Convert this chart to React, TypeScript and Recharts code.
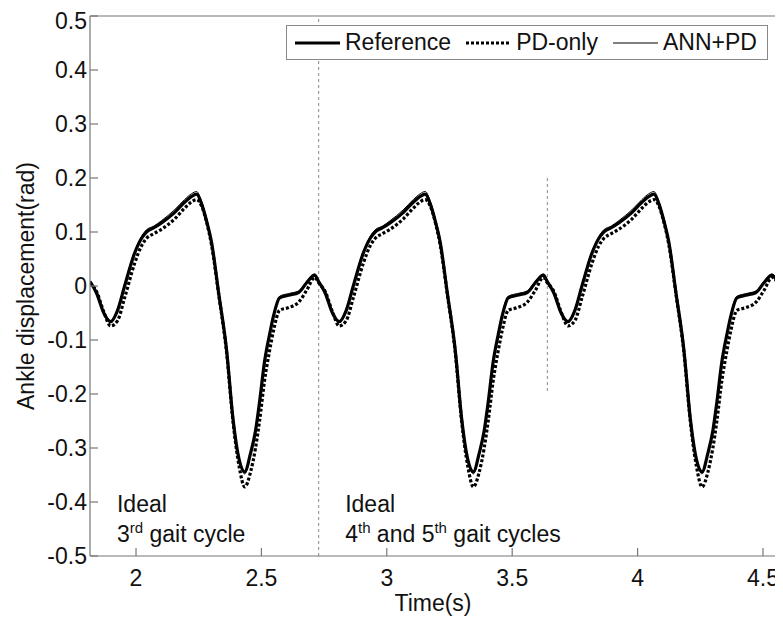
import React from 'react';
import { LineChart, Line, XAxis, YAxis, ReferenceLine, ReferenceDot, Legend } from 'recharts';

// ---- data ----
const cycleStarts = [1.8165, 2.7283, 3.6401];
const cycleEnd = 4.5519;
const phaseTimes = [0, 0.026, 0.055, 0.082, 0.11, 0.138, 0.178, 0.205, 0.225, 0.255, 0.285, 0.337, 0.377, 0.405, 0.425, 0.445, 0.465, 0.485, 0.513, 0.545, 0.57, 0.595, 0.617, 0.64, 0.66, 0.676, 0.696, 0.716, 0.732, 0.756, 0.792, 0.832, 0.864, 0.896];
const referenceCycle = [0.008, -0.013, -0.05, -0.066, -0.045, 0.0, 0.061, 0.088, 0.1, 0.108, 0.117, 0.136, 0.155, 0.166, 0.17, 0.152, 0.12, 0.08, -0.013, -0.12, -0.245, -0.322, -0.344, -0.31, -0.268, -0.215, -0.14, -0.09, -0.055, -0.022, -0.017, -0.012, 0.006, 0.02];
const pdOnlyCycle = [0.006, -0.01, -0.048, -0.074, -0.064, -0.022, 0.042, 0.074, 0.088, 0.097, 0.105, 0.124, 0.144, 0.156, 0.16, 0.148, 0.118, 0.075, -0.015, -0.125, -0.25, -0.335, -0.372, -0.345, -0.3, -0.25, -0.175, -0.12, -0.082, -0.045, -0.04, -0.03, -0.008, 0.016];
const annPdCycle = [0.01, -0.012, -0.048, -0.064, -0.042, 0.003, 0.064, 0.091, 0.104, 0.111, 0.121, 0.141, 0.16, 0.171, 0.175, 0.157, 0.124, 0.083, -0.01, -0.118, -0.243, -0.322, -0.348, -0.312, -0.268, -0.213, -0.137, -0.087, -0.052, -0.019, -0.014, -0.009, 0.009, 0.022];
const endValues = { reference: 0.012, pdOnly: 0.01, annPd: 0.014 };

const seriesKeys = ['reference', 'pdOnly', 'annPd'];
const seriesNames: Record<string, string> = { reference: 'Reference', pdOnly: 'PD-only', annPd: 'ANN+PD' };
const xTicks = [2, 2.5, 3, 3.5, 4, 4.5];
const yTicks = [-0.5, -0.4, -0.3, -0.2, -0.1, 0, 0.1, 0.2, 0.3, 0.4, 0.5];
const xDomain = [1.8165, 4.5519];
const yDomain = [-0.5, 0.5];
const cycleBoundary = 2.7283;
const secondBoundary = { x: 3.6401, yTop: 0.2, yBottom: -0.2 };
const annotations = [
  { x: 1.924, y: -0.4185, line1: 'Ideal', parts: [['3', 'rd'], [' gait cycle', '']] },
  { x: 2.834, y: -0.4185, line1: 'Ideal', parts: [['4', 'th'], [' and 5', 'th'], [' gait cycles', '']] },
];

const data: any[] = [];
cycleStarts.forEach((start) => {
  phaseTimes.forEach((p, i) => {
    data.push({ t: start + p, reference: referenceCycle[i], pdOnly: pdOnlyCycle[i], annPd: annPdCycle[i] });
  });
});
data.push({ t: cycleEnd, ...endValues });

// ---- styles ----
const FONT = '"Liberation Sans", Arial, Helvetica, sans-serif';
const AXIS = '#777';
const TEXT = '#111';
const lineStyles: Record<string, { width: number; dash?: string }> = {
  reference: { width: 3.2 },
  pdOnly: { width: 3.2, dash: '3 2' },
  annPd: { width: 1 },
};

const renderLegend = () => {
  return (
    <div
      style={{
        boxSizing: 'border-box',
        width: 482,
        height: 35,
        border: '1px solid #888',
        background: '#fff',
        display: 'flex',
        alignItems: 'center',
        paddingLeft: 8,
        fontFamily: FONT,
        fontSize: 23,
        color: TEXT,
        whiteSpace: 'nowrap',
      }}
    >
      {seriesKeys.map((key) => {
        const s = lineStyles[key];
        return (
          <div key={key} style={{ display: 'flex', alignItems: 'center', marginRight: 15 }}>
            <svg width={45} height={10} style={{ display: 'block' }}>
              <line x1={0} y1={5} x2={45} y2={5} stroke="#000" strokeWidth={s.width} strokeDasharray={s.dash} />
            </svg>
            <span style={{ marginLeft: 5, lineHeight: '23px' }}>{seriesNames[key]}</span>
          </div>
        );
      })}
    </div>
  );
};

const makeAnnotation = (a: any) => (props: any) => {
  const vb = props.viewBox || {};
  const x = (vb.x || 0) + (vb.width || 0) / 2;
  const y = (vb.y || 0) + (vb.height || 0) / 2;
  const spans: any[] = [];
  a.parts.forEach((p: any, i: number) => {
    spans.push(
      <tspan key={'m' + i} dy={i === 0 ? 30 : 9} x={i === 0 ? x : undefined}>
        {p[0]}
      </tspan>
    );
    if (p[1]) {
      spans.push(
        <tspan key={'s' + i} dy={-9} fontSize={15}>
          {p[1]}
        </tspan>
      );
    }
  });
  return (
    <text x={x} y={y} fontFamily={FONT} fontSize={23} fill={TEXT}>
      <tspan x={x} y={y}>{a.line1}</tspan>
      {spans}
    </text>
  );
};

export default function App() {
  return (
    <>
      <style>{`html, body { overflow: hidden; } .recharts-surface { display: block; }`}</style>
      <LineChart
        width={775}
        height={612}
        data={data}
        margin={{ top: 7, right: 6, bottom: 0, left: 0 }}
      >
        <XAxis
          dataKey="t"
          type="number"
          domain={xDomain}
          ticks={xTicks}
          allowDataOverflow
          height={64}
          stroke={AXIS}
          strokeWidth={1.2}
          tickSize={-8}
          tickMargin={22}
          tick={{ fontSize: 23, fill: TEXT, fontFamily: FONT }}
          label={{ value: 'Time(s)', position: 'insideBottom', offset: 9, fontSize: 23, fill: TEXT, fontFamily: FONT }}
        />
        <XAxis
          xAxisId="top"
          dataKey="t"
          type="number"
          orientation="top"
          domain={xDomain}
          ticks={xTicks}
          allowDataOverflow
          height={1}
          stroke={AXIS}
          strokeWidth={1.2}
          tickSize={-8}
          tick={false}
        />
        <YAxis
          type="number"
          domain={yDomain}
          ticks={yTicks}
          allowDataOverflow
          width={82}
          stroke={AXIS}
          strokeWidth={1.2}
          tickSize={-8}
          tickMargin={11}
          tick={{ fontSize: 23, fill: TEXT, fontFamily: FONT }}
          label={{ value: 'Ankle displacement(rad)', angle: -90, position: 'center', dx: -23, fontSize: 23, fill: TEXT, fontFamily: FONT }}
        />
        <YAxis
          yAxisId="right"
          type="number"
          orientation="right"
          domain={yDomain}
          ticks={yTicks}
          allowDataOverflow
          width={1}
          stroke={AXIS}
          strokeWidth={1.2}
          tickSize={-8}
          tick={false}
        />
        <ReferenceLine x={cycleBoundary} stroke="#888" strokeDasharray="3 3" strokeWidth={1} />
        <ReferenceLine
          segment={[
            { x: secondBoundary.x, y: secondBoundary.yTop },
            { x: secondBoundary.x, y: secondBoundary.yBottom },
          ]}
          stroke="#888"
          strokeDasharray="3 3"
          strokeWidth={1}
        />
        {annotations.map((a, i) => (
          <ReferenceDot key={i} x={a.x} y={a.y} r={0} fill="none" stroke="none" label={{ content: makeAnnotation(a) }} />
        ))}
        <Line type="monotone" dataKey="reference" name={seriesNames.reference} stroke="#000" strokeWidth={lineStyles.reference.width} dot={false} isAnimationActive={false} />
        <Line type="monotone" dataKey="pdOnly" name={seriesNames.pdOnly} stroke="#000" strokeWidth={lineStyles.pdOnly.width} strokeDasharray={lineStyles.pdOnly.dash} dot={false} isAnimationActive={false} />
        <Line type="monotone" dataKey="annPd" name={seriesNames.annPd} stroke="#000" strokeWidth={lineStyles.annPd.width} dot={false} isAnimationActive={false} />
        <Legend
          layout="horizontal"
          verticalAlign="middle"
          align="center"
          wrapperStyle={{ left: 278, top: 17, width: 482, height: 35 }}
          content={renderLegend}
        />
      </LineChart>
    </>
  );
}
